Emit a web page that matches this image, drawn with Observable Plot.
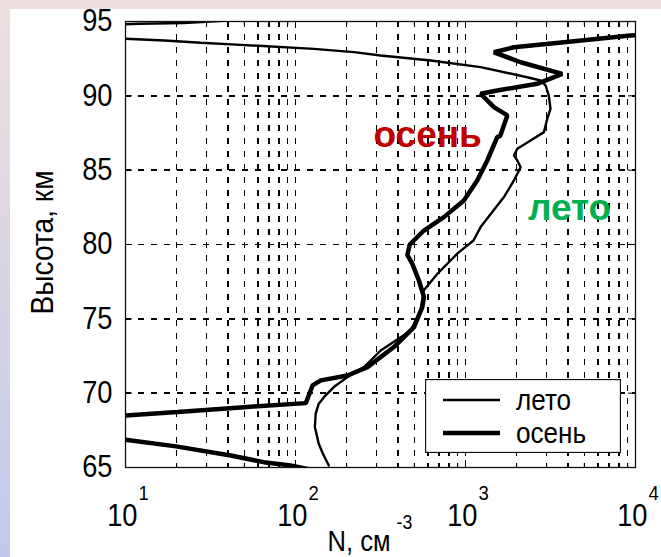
<!DOCTYPE html>
<html><head><meta charset="utf-8">
<script src="https://cdn.jsdelivr.net/npm/d3@7"></script>
<script src="https://cdn.jsdelivr.net/npm/@observablehq/plot@0.6"></script>
<style>
html,body{margin:0;padding:0;}
body{width:661px;height:557px;overflow:hidden;background:linear-gradient(to bottom,#eee0e0 0%,#e0d8e2 35%,#c0c9ee 100%);font-family:"Liberation Sans",Arial,sans-serif;}
#wrap{position:relative;width:661px;height:557px;}
#paper{position:absolute;left:10px;top:9px;right:0;bottom:0;background:#fff;}
#chart{position:absolute;left:0;top:0;}
#legend{position:absolute;left:425px;top:379px;}
</style></head><body>
<div id="wrap"><div id="paper"></div><div id="chart"></div><div id="legend"></div></div>
<script>
// ---- data ----
// лето (summer): N, cm^-3 and altitude, km
const letoN = [157,145,137,130,131.5,137,147,168,202,253,317,475,544,567,686,898,1114,1227,1683,1927,2110,2017,1927,2017,2415,2893,3027,3162,3090,2958,2765,2306,1227,624,317,221,128,47.7,27.7,16.9,10,5,3,12,22,45];
const letoH = [65.14,65.93,66.6,67.72,68.62,69.29,69.73,70.41,71.08,71.75,72.87,74.2,75.56,76.9,78.05,79.4,80.27,81.17,83.19,84.31,85.2,85.65,85.99,86.44,87.0,87.56,88.46,89.13,90.02,90.7,91.03,91.25,91.93,92.38,92.71,92.94,93.16,93.43,93.57,93.72,93.84,93.92,94.6,94.85,94.9,95.1];
// осень (autumn)
const osenN = [130,93.5,65,41.6,19.8,10,5,5,10,20.2,49.8,115,126,141,202,265,379,498,557,570,532,486,455,470,569,746,978,1172,1343,1537,1600,1762,1470,1227,1537,2640,3705,2110,1470,1927,3793,9354,20000];
const osenH = [64.8,65.14,65.36,65.81,66.42,66.87,67.2,68.3,68.5,68.73,69.06,69.33,70.52,70.86,71.19,71.75,73.1,74.44,75.79,76.46,77.58,78.71,79.3,80.0,80.94,81.84,82.96,84.3,85.65,87.22,87.3,88.68,89.24,90.14,90.36,90.81,91.48,92.26,92.93,93.27,93.61,94.06,94.3];

const seriesNames = ["лето", "осень"];
const xTicks = [10, 100, 1000, 10000];
const xTickBase = ["10", "10", "10", "10"];
const xTickExp = ["1", "2", "3", "4"];
const xGrid = [20,30,40,50,60,70,80,90,100,200,300,400,500,600,700,800,900,1000,2000,3000,4000,5000,6000,7000,8000,9000];
const yTicks = [65, 70, 75, 80, 85, 90, 95];
const yGrid = [70, 75, 80, 85, 90];
const xTitle = "N, см";
const xTitleExp = "-3";
const yTitle = "Высота, км";
const labelText = ["осень", "лето"];
const labelN = [599, 4093];
const labelH = [87.33, 82.42];
const labelColor = ["#c00000", "#00b050"];

// ---- build ----
const leto = letoN.map((N, i) => ({N, h: letoH[i]}));
const osen = osenN.map((N, i) => ({N, h: osenH[i]}));
const labels = labelText.map((t, i) => ({t, N: labelN[i], h: labelH[i], c: labelColor[i]}));

const W = 661, H = 557, mL = 125, mR = 26, mT = 21, mB = 90;
const pw = W - mL - mR, ph = H - mT - mB;
const font = "Liberation Sans, Arial, sans-serif";
const dash = "6,7";
const gridStyle = {stroke: "black", strokeWidth: 1.5, strokeDasharray: dash, shapeRendering: "crispEdges"};

const chart = Plot.plot({
  width: W, height: H,
  marginLeft: mL, marginRight: mR, marginTop: mT, marginBottom: mB,
  style: {background: "transparent", fontFamily: font, color: "black", overflow: "visible"},
  x: {type: "log", domain: [10, 10000], axis: null, label: null},
  y: {domain: [65, 95], axis: null, label: null},
  marks: [
    Plot.ruleX(xGrid, {x: d => d, ...gridStyle}),
    Plot.ruleY(yGrid, {y: d => d, ...gridStyle}),
    // inward ticks
    Plot.tickX(xGrid, {x: d => d, insetTop: ph - 4, stroke: "black"}),
    Plot.tickX(xGrid, {x: d => d, insetBottom: ph - 4, stroke: "black"}),
    Plot.tickX(xTicks, {x: d => d, insetTop: ph - 7, stroke: "black"}),
    Plot.tickX(xTicks, {x: d => d, insetBottom: ph - 7, stroke: "black"}),
    Plot.tickY(yGrid, {y: d => d, insetRight: pw - 7, stroke: "black"}),
    Plot.tickY(yGrid, {y: d => d, insetLeft: pw - 7, stroke: "black"}),
    Plot.line(leto, {x: "N", y: "h", stroke: "black", strokeWidth: 2.4, clip: true, strokeLinejoin: "miter"}),
    Plot.line(osen, {x: "N", y: "h", stroke: "black", strokeWidth: 4.5, clip: true, strokeLinejoin: "miter"}),
    Plot.frame({stroke: "#111", strokeWidth: 1.3}),
    Plot.text(labels, {x: "N", y: "h", text: "t", fill: "c", fontSize: 37, fontWeight: "bold", fontFamily: font}),
    Plot.axisY(yTicks, {tickSize: 0, tickPadding: 13, fontSize: 31, fontFamily: font, label: null}),
    Plot.text(xTicks, {x: d => d, text: (d, i) => xTickBase[i], frameAnchor: "bottom", lineAnchor: "middle", dy: 49, dx: 12, textAnchor: "end", fontSize: 31, fontFamily: font}),
    Plot.text(xTicks, {x: d => d, text: (d, i) => xTickExp[i], frameAnchor: "bottom", lineAnchor: "middle", dy: 26, dx: 13, textAnchor: "start", fontSize: 21, fontFamily: font}),
    Plot.text([xTitle], {frameAnchor: "bottom", lineAnchor: "middle", dy: 74, dx: 10, textAnchor: "end", fontSize: 29, fontFamily: font}),
    Plot.text([xTitleExp], {frameAnchor: "bottom", lineAnchor: "middle", dy: 55, dx: 16, textAnchor: "start", fontSize: 20, fontFamily: font}),
    Plot.text([yTitle], {frameAnchor: "left", textAnchor: "middle", lineAnchor: "middle", rotate: -90, dx: -83, dy: -2, fontSize: 32, fontFamily: font})
  ]
});
document.getElementById("chart").appendChild(chart);

// slightly condensed lettering, as in the original figure
d3.select(chart).selectAll("text").each(function() {
  const t = this.textContent;
  if (labelText.includes(t)) return;
  const len = this.getComputedTextLength();
  if (len > 0) {
    this.setAttribute("textLength", (len * 0.88).toFixed(1));
    this.setAttribute("lengthAdjust", "spacingAndGlyphs");
  }
});

// legend box
const lg = d3.select("#legend").append("svg").attr("width", 196).attr("height", 74);
lg.append("rect").attr("x", 0.5).attr("y", 0.5).attr("width", 195).attr("height", 73).attr("fill", "white").attr("stroke", "#111").attr("stroke-width", 1.3);
const widths = [2.4, 4.5];
seriesNames.forEach((name, i) => {
  const yy = 21 + i * 33;
  lg.append("line").attr("x1", 18).attr("x2", 75).attr("y1", yy).attr("y2", yy).attr("stroke", "black").attr("stroke-width", widths[i]);
  const tx = lg.append("text").attr("x", 91).attr("y", yy).attr("dy", "0.35em").attr("font-size", 29).attr("font-family", font).text(name).node();
  const len = tx.getComputedTextLength();
  tx.setAttribute("textLength", (len * 0.9).toFixed(1));
  tx.setAttribute("lengthAdjust", "spacingAndGlyphs");
});
</script>
</body></html>
